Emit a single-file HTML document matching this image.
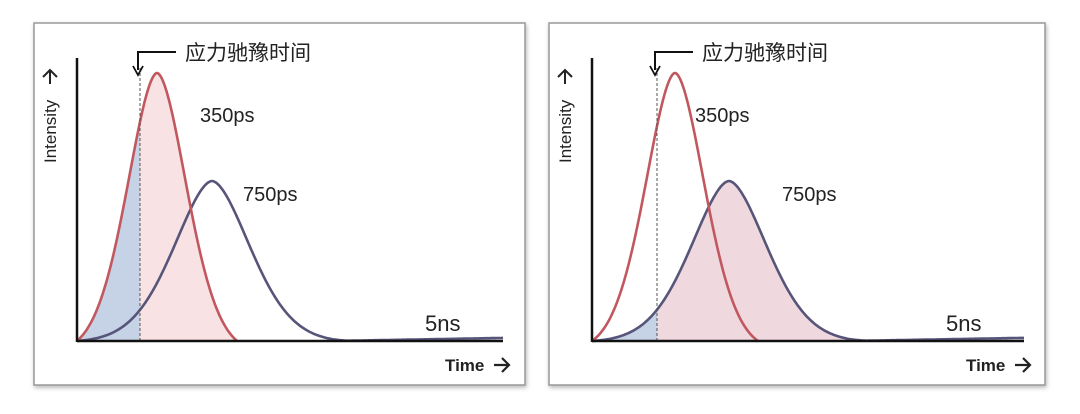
<!DOCTYPE html>
<html><head><meta charset="utf-8"><style>
body{margin:0;background:#fff;width:1080px;height:414px;overflow:hidden}
svg{display:block}
text{font-family:"Liberation Sans","Noto Sans CJK SC",sans-serif;fill:#222}
</style></head><body>
<svg id="s" width="1080" height="414" xmlns="http://www.w3.org/2000/svg">
<defs>
<filter id="sh" x="-5%" y="-5%" width="110%" height="110%"><feDropShadow dx="1" dy="2" stdDeviation="2" flood-color="#888" flood-opacity="0.6"/></filter>
</defs>
<rect x="34" y="23" width="491" height="362" fill="#fff" stroke="#999" stroke-width="1.5" filter="url(#sh)"/>
<rect x="549" y="23" width="496" height="362" fill="#fff" stroke="#999" stroke-width="1.5" filter="url(#sh)"/>
<g id="g1"></g><g id="g2"></g>
</svg>
<script>
function pk(x,mu,s,h,p,zm){var z=Math.abs((x-mu)/s);var e=Math.exp(-Math.pow(z,p)/2),em=Math.exp(-Math.pow(zm,p)/2);return h*Math.max(0,(e-em)/(1-em));}
function build(g,ax,xend,rpk,bpk,dash,mode,labs){
 var y0=341,NS="http://www.w3.org/2000/svg";
 var rz=(rpk-ax)/29;
 function red(x){return y0-pk(x,rpk,29,268,1.8,rz);}
 function blue(x){return y0-pk(x,bpk,37,160,1.75,(bpk-ax)/37)-Math.max(0,(x-(bpk+120)))*0.018;}
 function path(f,a,b,close){var d="";for(var x=a;x<=b;x+=1){d+=(x==a?"M":"L")+x.toFixed(1)+" "+f(x).toFixed(1)+" ";}if(close)d+="L"+b+" "+y0+" L"+a+" "+y0+" Z";return d;}
 function add(tag,attrs,txt){var e=document.createElementNS(NS,tag);for(var k in attrs)e.setAttribute(k,attrs[k]);if(txt)e.textContent=txt;g.appendChild(e);return e;}
 var rend=2*rpk-ax;
 if(mode==1){
  add("path",{d:path(red,ax,dash,true),fill:"#c6d3e6"});
  add("path",{d:path(red,dash,rend,true),fill:"#f8e2e4"});
 }else{
  add("path",{d:path(blue,ax,dash,true),fill:"#c6d3e6"});
  add("path",{d:path(blue,dash,bpk+128,true),fill:"#efd9df"});
 }
 add("path",{d:path(blue,ax,xend,false),fill:"none",stroke:"#57557a","stroke-width":2.6});
 add("path",{d:path(red,ax,rend,false),fill:"none",stroke:"#c2585f","stroke-width":2.6});
 add("line",{x1:dash,y1:68,x2:dash,y2:y0,stroke:"#555","stroke-width":1,"stroke-dasharray":"3,2"});
 add("line",{x1:ax,y1:58,x2:ax,y2:y0+1,stroke:"#111","stroke-width":2.5});
 add("line",{x1:ax,y1:y0,x2:xend,y2:y0,stroke:"#111","stroke-width":2.5});
 add("path",{d:"M"+(dash+36)+" 52 L"+(dash-2)+" 52 L"+(dash-2)+" 70",fill:"none",stroke:"#111","stroke-width":2});
 add("path",{d:"M"+(dash-7)+" 66 L"+(dash-2)+" 75 L"+(dash+3)+" 66",fill:"none",stroke:"#111","stroke-width":1.8});
 add("text",{x:dash+45,y:60,"font-size":"21"},"应力驰豫时间");
 add("text",{x:labs[0],y:122,"font-size":"20"},"350ps");
 add("text",{x:labs[1],y:201,"font-size":"20"},"750ps");
 add("text",{x:xend-78,y:331,"font-size":"22"},"5ns");
 add("text",{x:xend-58,y:371,"font-size":"17","font-weight":"bold"},"Time");
 var tx=xend-9;
 add("path",{d:"M"+(tx)+" 365 L"+(tx+14)+" 365 M"+(tx+8)+" 358 L"+(tx+15)+" 365 L"+(tx+8)+" 372",fill:"none",stroke:"#222","stroke-width":2.2});
 add("text",{x:0,y:0,"font-size":"17",transform:"translate("+(ax-21)+",163) rotate(-90)"},"Intensity");
 var iy=70,ix=ax-27;
 add("path",{d:"M"+ix+" "+(iy+14)+" L"+ix+" "+iy+" M"+(ix-7)+" "+(iy+7)+" L"+ix+" "+iy+" L"+(ix+7)+" "+(iy+7),fill:"none",stroke:"#222","stroke-width":2});
}
build(document.getElementById("g1"),77,503,157,212,140,1,[200,243]);
build(document.getElementById("g2"),592,1024,675,729,657,2,[695,782]);
</script>
</body></html>
